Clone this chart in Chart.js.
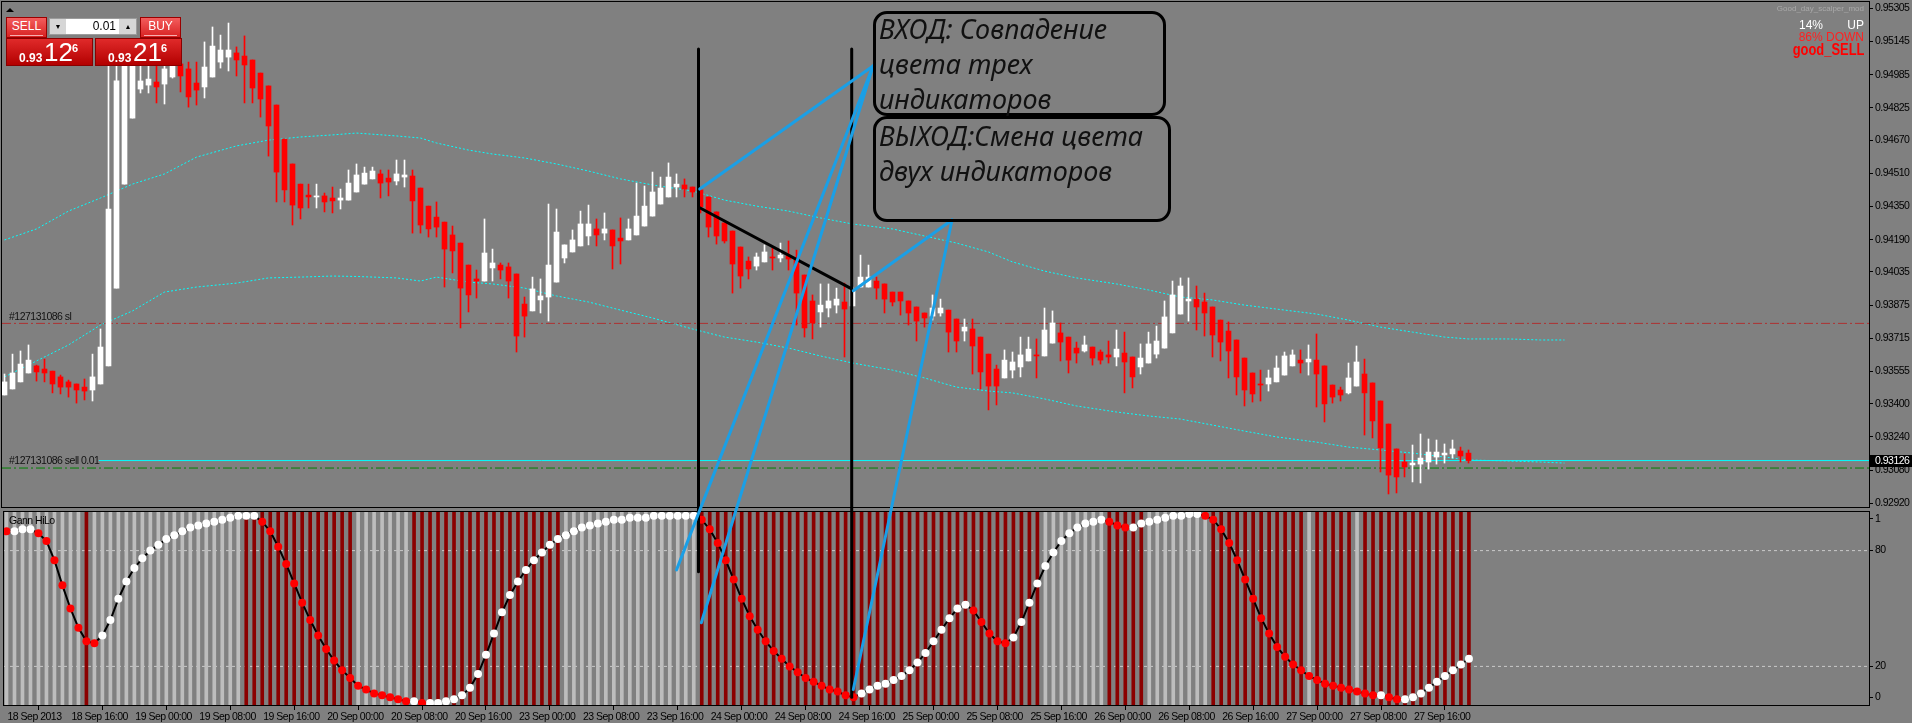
<!DOCTYPE html>
<html>
<head>
<meta charset="utf-8">
<title>H1 chart with Gann HiLo</title>
<script src="https://cdn.jsdelivr.net/npm/chart.js@4.4.1/dist/chart.umd.min.js"></script>
<style>
  html, body { margin: 0; padding: 0; background: #808080; }
  body { position: relative; width: 1912px; height: 723px; overflow: hidden;
         font-family: "Liberation Sans", Arial, sans-serif; }
  canvas { position: absolute; left: 0; }
  #mainChart { top: 0; }
  #gannChart { top: 508px; }
  #marks { top: 0; pointer-events: none; }

  /* one-click trading panel */
  .tri { position: absolute; left: 6px; top: 8px; width: 0; height: 0;
         border-left: 4px solid transparent; border-right: 4px solid transparent; border-bottom: 4px solid #000; }
  .btn { position: absolute; top: 17px; width: 41px; height: 21px; box-sizing: border-box;
         background: linear-gradient(#f35d5d, #d82222); border: 1px solid #9a0000;
         color: #fff; font-size: 12px; text-align: center; line-height: 17px; }
  .btn span { display: block; margin: 0 3px; border-bottom: 1px solid #f6b0b0; }
  .lot { position: absolute; left: 49px; top: 18px; width: 88px; height: 17px; box-sizing: border-box;
         background: #d6d6d6; border: 1px solid #9c9c9c; }
  .lot .a { position: absolute; top: 0; width: 16px; height: 15px; font-size: 7px; line-height: 15px; text-align: center; color: #000; }
  .lot .v { position: absolute; left: 16px; top: 0; width: 53px; height: 15px; background: #fff;
            font-size: 12px; line-height: 15px; text-align: right; box-sizing: border-box; padding-right: 3px; color: #000; }
  .quote { position: absolute; top: 38px; width: 87px; height: 28px; box-sizing: border-box;
           background: linear-gradient(#e02a2a, #b30000); border: 1px solid #8a0000; color: #fff; }
  .quote .s { position: absolute; left: 12px; top: 12px; font-size: 12px; font-weight: bold; }
  .quote .b { position: absolute; left: 37px; top: -1px; font-size: 26px; line-height: 28px; }
  .quote .p { position: absolute; left: 65px; top: 3px; font-size: 11px; font-weight: bold; }

  /* expert info, top right */
  .info { position: absolute; right: 48px; white-space: nowrap; }

  /* notes drawn on the screenshot */
  .note { position: absolute; box-sizing: border-box; border: 3px solid #000; border-radius: 14px;
          font: italic 27px "Noto Sans", "Open Sans", sans-serif; line-height: 35px; color: #111;
          padding-left: 3px; white-space: nowrap; }
  .note div { position: relative; top: -3px; }
  .note.exit div { top: -1px; }
</style>
</head>
<body>
<canvas id="mainChart" width="1912" height="510"></canvas>
<canvas id="gannChart" width="1912" height="215"></canvas>
<canvas id="marks" width="1912" height="723"></canvas>

<div class="tri"></div>
<div class="btn" style="left:6px"><span>SELL</span></div>
<div class="lot"><div class="a" style="left:0">&#9660;</div><div class="v">0.01</div><div class="a" style="left:70px">&#9650;</div></div>
<div class="btn" style="left:140px"><span>BUY</span></div>
<div class="quote" style="left:6px"><span class="s">0.93</span><span class="b">12</span><span class="p">6</span></div>
<div class="quote" style="left:95px"><span class="s">0.93</span><span class="b">21</span><span class="p">6</span></div>

<div class="info" style="top:4px;font-size:8px;color:#a9a9a9">Good_day_scalper_mod</div>
<div class="info" style="top:18px;font-size:12px;color:#fff;left:1799px;right:auto">14%</div>
<div class="info" style="top:18px;font-size:12px;color:#fff">UP</div>
<div class="info" style="top:30px;font-size:12px;color:#ff2020">86% DOWN</div>
<div class="info" style="top:40px;font-size:17px;font-weight:bold;color:#ff0000;transform:scaleX(0.76);transform-origin:right">good_SELL</div>

<div class="note" style="left:873px;top:11px;width:293px;height:105px"><div>ВХОД: Совпадение<br>цвета трех<br>индикаторов</div></div>
<div class="note exit" style="left:873px;top:116px;width:298px;height:106px"><div>ВЫХОД:Смена цвета<br>двух индикаторов</div></div>

<script>
// ---- hourly bars, 18 Sep 2013 08:00 .. 27 Sep 2013 23:00 ----
const open = [0.93442,0.93471,0.93505,0.93548,0.93582,0.93567,0.93557,0.93529,0.93505,0.93495,
  0.93480,0.93466,0.93495,0.93582,0.93957,0.94458,0.94776,0.94916,0.94935,0.94950,
  0.94940,0.94974,0.95037,0.95013,0.94945,0.94926,0.94974,0.95046,0.95070,0.95090,
  0.95075,0.95056,0.94993,0.94931,0.94839,0.94675,0.94555,0.94458,0.94405,0.94396,
  0.94401,0.94391,0.94381,0.94381,0.94420,0.94458,0.94483,0.94507,0.94487,0.94473,
  0.94492,0.94497,0.94439,0.94352,0.94299,0.94275,0.94213,0.94174,0.94068,0.94001,
  0.93991,0.94054,0.94068,0.94059,0.94025,0.93880,0.93847,0.93900,0.93914,0.93986,
  0.94102,0.94131,0.94160,0.94208,0.94242,0.94222,0.94237,0.94198,0.94189,0.94213,
  0.94256,0.94304,0.94362,0.94396,0.94444,0.94454,0.94444,0.94430,0.94396,0.94324,
  0.94271,0.94232,0.94155,0.94087,0.94063,0.94083,0.94107,0.94102,0.94112,0.94102,
  0.94020,0.93895,0.93842,0.93861,0.93875,0.93890,0.93871,0.93962,0.93962,0.93991,
  0.93977,0.93938,0.93938,0.93895,0.93866,0.93837,0.93822,0.93837,0.93851,0.93808,
  0.93750,0.93760,0.93721,0.93639,0.93567,0.93524,0.93562,0.93577,0.93606,0.93635,
  0.93630,0.93692,0.93741,0.93721,0.93668,0.93654,0.93673,0.93649,0.93635,0.93625,
  0.93644,0.93625,0.93577,0.93596,0.93639,0.93668,0.93741,0.93832,0.93895,0.93904,
  0.93890,0.93866,0.93803,0.93750,0.93707,0.93620,0.93548,0.93495,0.93495,0.93505,
  0.93538,0.93582,0.93610,0.93601,0.93610,0.93582,0.93490,0.93466,0.93452,0.93485,
  0.93543,0.93500,0.93413,0.93302,0.93182,0.93119,0.93105,0.93109,0.93119,0.93143,
  0.93153,0.93158,0.93172,0.93162];
const high = [0.93543,0.93639,0.93654,0.93683,0.93586,0.93615,0.93557,0.93538,0.93514,0.93495,
  0.93519,0.93639,0.93760,0.95056,0.95066,0.95104,0.95094,0.95046,0.95056,0.95037,
  0.95056,0.95075,0.95066,0.95046,0.95046,0.95143,0.95215,0.95176,0.95234,0.95119,
  0.95172,0.95056,0.94993,0.94931,0.94839,0.94675,0.94555,0.94458,0.94458,0.94458,
  0.94415,0.94444,0.94434,0.94526,0.94555,0.94540,0.94540,0.94526,0.94526,0.94574,
  0.94574,0.94526,0.94439,0.94352,0.94372,0.94275,0.94256,0.94174,0.94068,0.94044,
  0.94290,0.94145,0.94078,0.94078,0.94025,0.93914,0.94010,0.94001,0.94362,0.94338,
  0.94165,0.94237,0.94328,0.94357,0.94290,0.94319,0.94237,0.94295,0.94290,0.94463,
  0.94449,0.94516,0.94492,0.94560,0.94507,0.94483,0.94444,0.94439,0.94396,0.94324,
  0.94271,0.94232,0.94155,0.94107,0.94126,0.94165,0.94155,0.94174,0.94184,0.94140,
  0.94020,0.93924,0.93977,0.93977,0.93957,0.93981,0.93962,0.94116,0.94068,0.94010,
  0.93977,0.93938,0.93938,0.93895,0.93866,0.93837,0.93924,0.93904,0.93851,0.93808,
  0.93808,0.93808,0.93721,0.93639,0.93586,0.93659,0.93649,0.93721,0.93721,0.93712,
  0.93861,0.93847,0.93789,0.93721,0.93697,0.93726,0.93673,0.93659,0.93702,0.93755,
  0.93745,0.93625,0.93688,0.93745,0.93774,0.93895,0.93991,0.94006,0.94006,0.93967,
  0.93933,0.93866,0.93803,0.93794,0.93707,0.93620,0.93548,0.93562,0.93562,0.93630,
  0.93649,0.93659,0.93659,0.93683,0.93736,0.93582,0.93490,0.93480,0.93596,0.93678,
  0.93615,0.93500,0.93413,0.93302,0.93182,0.93158,0.93201,0.93254,0.93230,0.93225,
  0.93206,0.93225,0.93191,0.93177];
const low = [0.93442,0.93471,0.93505,0.93548,0.93509,0.93505,0.93452,0.93447,0.93432,0.93403,
  0.93418,0.93413,0.93495,0.93582,0.93957,0.94458,0.94776,0.94897,0.94897,0.94849,
  0.94844,0.94969,0.94902,0.94829,0.94839,0.94873,0.94974,0.95017,0.95003,0.94979,
  0.94849,0.94849,0.94781,0.94593,0.94372,0.94372,0.94261,0.94290,0.94343,0.94343,
  0.94324,0.94319,0.94338,0.94381,0.94420,0.94458,0.94483,0.94391,0.94401,0.94454,
  0.94444,0.94222,0.94222,0.94203,0.94203,0.93962,0.94030,0.93765,0.93842,0.93909,
  0.93991,0.93991,0.94001,0.93909,0.93649,0.93721,0.93847,0.93837,0.93798,0.93986,
  0.94078,0.94131,0.94160,0.94165,0.94160,0.94189,0.94049,0.94073,0.94189,0.94213,
  0.94256,0.94304,0.94362,0.94396,0.94396,0.94396,0.94396,0.94319,0.94203,0.94169,
  0.94174,0.93933,0.93957,0.94001,0.94044,0.94083,0.94044,0.94083,0.94044,0.93779,
  0.93721,0.93712,0.93769,0.93818,0.93837,0.93625,0.93871,0.93962,0.93962,0.93904,
  0.93837,0.93871,0.93827,0.93779,0.93702,0.93769,0.93803,0.93822,0.93649,0.93649,
  0.93702,0.93543,0.93471,0.93370,0.93394,0.93524,0.93524,0.93529,0.93606,0.93524,
  0.93630,0.93692,0.93606,0.93548,0.93596,0.93649,0.93586,0.93591,0.93596,0.93582,
  0.93452,0.93476,0.93543,0.93596,0.93620,0.93668,0.93741,0.93832,0.93798,0.93755,
  0.93726,0.93625,0.93606,0.93524,0.93442,0.93389,0.93408,0.93413,0.93461,0.93505,
  0.93538,0.93582,0.93548,0.93538,0.93384,0.93312,0.93403,0.93413,0.93447,0.93485,
  0.93249,0.93235,0.93071,0.92965,0.92970,0.93047,0.93023,0.93018,0.93085,0.93109,
  0.93114,0.93138,0.93119,0.93114];
const close = [0.93505,0.93548,0.93591,0.93610,0.93553,0.93548,0.93495,0.93480,0.93480,0.93466,
  0.93461,0.93529,0.93673,0.94338,0.94955,0.95066,0.95056,0.94955,0.94964,0.94926,
  0.95013,0.95037,0.94979,0.94878,0.94911,0.95022,0.95123,0.95104,0.95104,0.95056,
  0.95032,0.94921,0.94868,0.94738,0.94516,0.94430,0.94357,0.94343,0.94396,0.94401,
  0.94372,0.94377,0.94391,0.94463,0.94502,0.94511,0.94521,0.94463,0.94468,0.94507,
  0.94502,0.94377,0.94261,0.94242,0.94251,0.94145,0.94136,0.93957,0.93924,0.93991,
  0.94126,0.94078,0.94044,0.93991,0.93726,0.93822,0.93953,0.93919,0.94068,0.94227,
  0.94165,0.94189,0.94266,0.94266,0.94213,0.94242,0.94160,0.94184,0.94242,0.94304,
  0.94352,0.94420,0.94439,0.94492,0.94458,0.94434,0.94420,0.94348,0.94251,0.94208,
  0.94184,0.94073,0.94015,0.94049,0.94107,0.94131,0.94102,0.94116,0.94097,0.93933,
  0.93765,0.93789,0.93875,0.93895,0.93904,0.93856,0.93953,0.94010,0.94010,0.93957,
  0.93904,0.93890,0.93895,0.93837,0.93798,0.93813,0.93861,0.93861,0.93745,0.93702,
  0.93769,0.93678,0.93553,0.93485,0.93485,0.93610,0.93601,0.93635,0.93663,0.93630,
  0.93755,0.93789,0.93697,0.93610,0.93644,0.93683,0.93620,0.93610,0.93625,0.93663,
  0.93601,0.93529,0.93620,0.93688,0.93702,0.93818,0.93924,0.93967,0.93904,0.93866,
  0.93837,0.93731,0.93697,0.93654,0.93529,0.93466,0.93447,0.93490,0.93524,0.93572,
  0.93630,0.93635,0.93596,0.93615,0.93543,0.93399,0.93432,0.93442,0.93524,0.93601,
  0.93452,0.93317,0.93187,0.93056,0.93047,0.93095,0.93114,0.93138,0.93167,0.93167,
  0.93162,0.93182,0.93148,0.93126];

// envelope (cyan dotted, shifted forward), read at these bar indices
const bandBars  = [0,4,8,12,16,20,24,29,33,37,41,44,49,52,54,58,61,65,69,73,77,81,86,90,94,98,102,106,111,115,119,123,126,130,134,139,143,147,151,155,159,164,168,172,176,180,183,188,192,195];
const upperBand = [0.94189,0.94242,0.94328,0.94391,0.94458,0.94507,0.94588,0.94642,0.94670,0.94685,0.94695,0.94704,0.94690,0.94680,0.94656,0.94622,0.94603,0.94584,0.94555,0.94521,0.94483,0.94454,0.94425,0.94381,0.94352,0.94328,0.94295,0.94266,0.94242,0.94208,0.94174,0.94131,0.94083,0.94039,0.94006,0.93977,0.93948,0.93914,0.93900,0.93875,0.93856,0.93832,0.93803,0.93769,0.93745,0.93721,0.93712,0.93712,0.93707,0.93707];
const lowerBand = [0.93529,0.93606,0.93683,0.93779,0.93847,0.93938,0.93962,0.93981,0.94006,0.94010,0.94015,0.94013,0.94006,0.93991,0.94010,0.93986,0.93977,0.93957,0.93919,0.93890,0.93851,0.93813,0.93760,0.93721,0.93697,0.93668,0.93630,0.93596,0.93562,0.93524,0.93480,0.93461,0.93452,0.93423,0.93389,0.93360,0.93341,0.93326,0.93297,0.93268,0.93240,0.93215,0.93191,0.93177,0.93162,0.93143,0.93129,0.93124,0.93119,0.93114];

// Gann HiLo sub-window: oscillator value and histogram state (1 = sell, 0 = buy)
const gannValue = [90,90,91,91,89,85,75,62,50,40,
  33,32,36,44,55,64,71,76,80,83,
  86,88,90,92,93,94,95,96,97,98,
  98,98,95,90,82,73,63,53,44,36,
  29,23,18,14,10,8,6,5,4,3,
  2,2,1,1,1,2,3,5,9,16,
  26,37,48,57,64,70,75,79,83,86,
  88,90,92,93,94,95,96,96,97,97,
  97,98,98,98,98,98,98,96,91,84,
  75,65,55,46,39,33,28,24,20,17,
  14,12,10,8,7,5,4,6,8,10,
  11,13,15,18,22,27,33,39,45,50,
  52,49,43,37,33,32,35,43,53,63,
  72,79,85,89,92,94,95,96,95,93,
  92,92,94,95,96,97,98,98,99,99,
  98,96,91,84,75,65,55,45,37,30,
  25,21,18,15,13,11,10,9,8,7,
  6,5,5,4,3,3,4,6,9,12,
  15,18,21,24];
const gannState = [0,0,0,0,0,0,0,0,0,0, 1,0,0,0,0,0,0,0,0,0, 0,0,0,0,0,0,0,0,0,0,
  1,1,1,1,1,1,1,1,1,1, 1,1,1,1,0,0,0,0,0,0, 0,1,1,1,1,1,1,1,1,1,
  1,1,1,1,1,1,1,1,1,1, 0,0,0,0,0,0,0,0,0,0, 0,0,0,0,0,0,0,1,1,1,
  1,1,1,1,1,1,1,1,1,1, 1,1,1,1,1,1,1,1,1,1, 1,1,1,1,1,1,1,1,1,1,
  1,1,1,1,1,1,1,1,1,1, 0,0,0,0,0,0,0,0,1,1, 1,1,1,0,0,0,0,0,0,0,
  0,1,1,1,1,1,1,1,1,1, 1,1,1,0,1,1,1,1,1,0, 1,1,1,1,1,1,1,1,1,1,
  1,1,1,1];

// axes
const priceTicks = [0.95305,0.95145,0.94985,0.94825,0.94670,0.94510,0.94350,0.94190,0.94035,0.93875,0.93715,0.93555,0.93400,0.93240,0.93080,0.92920];
const gannTicks = [96.5, 80, 20, 4];
const gannTickLabels = ['1', '80', '20', '0'];
const gannLevels = [80, 20];
const timeLabels = ['18 Sep 2013','18 Sep 16:00','19 Sep 00:00','19 Sep 08:00','19 Sep 16:00','20 Sep 00:00','20 Sep 08:00','20 Sep 16:00',
  '23 Sep 00:00','23 Sep 08:00','23 Sep 16:00','24 Sep 00:00','24 Sep 08:00','24 Sep 16:00','25 Sep 00:00','25 Sep 08:00',
  '25 Sep 16:00','26 Sep 00:00','26 Sep 08:00','26 Sep 16:00','27 Sep 00:00','27 Sep 08:00','27 Sep 16:00'];
const barsPerLabel = 8;

// order lines
const slPrice = 0.93787, orderPrice = 0.93090, bidPrice = 0.93126;
const slText = '#127131086 sl', orderText = '#127131086 sell 0.01';

// hand-drawn markup (bar index + price / Gann value)
const entryBar = 86.75, exitBar = 105.9, markTopPrice = 0.95109;
const entryEndGann = 69, exitEndGann = 4;
const trendLine = [[86.9, 0.94344], [105.9, 0.93953]];
const entryTip = [873, 66], exitTip = [952, 220];
const entryRays = [{ bar: 86.9, price: 0.94434 }, { bar: 87.1, gann: 42.6 }, { bar: 84, gann: 70 }];
const exitRays = [{ bar: 106.1, price: 0.93944 }, { bar: 106.1, gann: 8 }];

// ------------------------------------------------------------------
const FONT = '"Liberation Sans", Arial, sans-serif';
const X_MIN = -0.3125, X_MAX = 233.0625;
const P_MIN = 0.929023, P_MAX = 0.953354;
Chart.defaults.font.family = FONT;
Chart.defaults.font.size = 10.5;
Chart.defaults.color = '#000';

const candleColor = open.map((o, i) => close[i] >= o ? '#ffffff' : '#ff0000');
const wickData = open.map((o, i) => ({ x: i, y: [low[i], high[i]] }));
const bodyData = open.map((o, i) => ({ x: i, y: [o, close[i]] }));
const hline = (y, from) => [{ x: from, y: y }, { x: X_MAX, y: y }];

// MT4 terminal text is tighter than Liberation Sans
const tightText = {
  id: 'tightText',
  beforeDraw(chart) { chart.ctx.letterSpacing = '-0.5px'; }
};

// no extra room for half labels: the plot must fill the window edge to edge
function noLabelPad(s) { s.paddingTop = 0; s.paddingBottom = 0; s.paddingLeft = 0; s.paddingRight = 0; }

const framePlugin = {
  id: 'frame',
  afterDraw(chart) {
    const { ctx, chartArea: a } = chart;
    ctx.save();
    ctx.strokeStyle = '#000';
    ctx.lineWidth = 1;
    ctx.strokeRect(a.left - 0.5, a.top - 0.5, a.right - a.left + 1, a.bottom - a.top + 1);
    ctx.restore();
  }
};

const orderLabels = {
  id: 'orderLabels',
  afterDatasetsDraw(chart) {
    const { ctx, chartArea: a, scales: { y } } = chart;
    ctx.save();
    ctx.font = '10.5px ' + FONT;
    ctx.fillStyle = '#111';
    ctx.textBaseline = 'bottom';
    ctx.fillText(slText, a.left + 7, y.getPixelForValue(slPrice) - 1);
    ctx.textBaseline = 'middle';
    ctx.fillText(orderText, a.left + 7, y.getPixelForValue(bidPrice) + 1);
    // current bid on the price scale
    const by = Math.round(y.getPixelForValue(bidPrice));
    ctx.fillStyle = '#000';
    ctx.fillRect(a.right + 1, by - 6, 1912 - a.right, 12);
    ctx.fillStyle = '#fff';
    ctx.fillText(bidPrice.toFixed(5), a.right + 6, by + 0.5);
    ctx.restore();
  }
};

const mainChart = new Chart(document.getElementById('mainChart'), {
  type: 'bar',
  data: {
    datasets: [
      { type: 'line', data: bandBars.map((b, i) => ({ x: b, y: upperBand[i] })), borderColor: '#00ffff', borderWidth: 1, borderDash: [2, 2], pointRadius: 0, order: 9 },
      { type: 'line', data: bandBars.map((b, i) => ({ x: b, y: lowerBand[i] })), borderColor: '#00ffff', borderWidth: 1, borderDash: [2, 2], pointRadius: 0, order: 9 },
      { type: 'line', data: hline(slPrice, X_MIN), borderColor: '#ad3030', borderWidth: 1, borderDash: [9, 3, 2, 3], pointRadius: 0, order: 8 },
      { type: 'line', data: hline(orderPrice, X_MIN), borderColor: '#008000', borderWidth: 1, borderDash: [9, 3, 2, 3], pointRadius: 0, order: 8 },
      { type: 'line', data: hline(bidPrice, 11.8), borderColor: '#00ffff', borderWidth: 1, pointRadius: 0, order: 7 },
      { data: wickData, backgroundColor: candleColor, barThickness: 1, grouped: false, order: 2 },
      { data: bodyData, backgroundColor: candleColor, barThickness: 5, grouped: false, minBarLength: 1, order: 1 }
    ]
  },
  options: {
    responsive: false, animation: false, events: [],
    layout: { padding: { left: 2, top: 2, right: 0, bottom: 3 } },
    plugins: { legend: { display: false }, tooltip: { enabled: false } },
    scales: {
      x: { type: 'linear', min: X_MIN, max: X_MAX, offset: false, display: false },
      y: {
        position: 'right', min: P_MIN, max: P_MAX,
        afterFit(s) { s.width = 43; noLabelPad(s); },
        afterBuildTicks(s) { s.ticks = priceTicks.map(v => ({ value: v })); },
        ticks: { padding: 2, callback: v => v.toFixed(5) },
        grid: { drawOnChartArea: false, tickLength: 4, color: '#000' },
        border: { color: '#000' }
      }
    }
  },
  plugins: [tightText, framePlugin, orderLabels]
});

const gannLabel = {
  id: 'gannLabel',
  afterDraw(chart) {
    const { ctx, chartArea: a } = chart;
    ctx.save();
    ctx.font = '10.5px ' + FONT;
    ctx.fillStyle = '#000';
    ctx.textBaseline = 'middle';
    ctx.fillText('Gann HiLo', a.left + 5, a.top + 9);
    ctx.restore();
  }
};

const dotColor = gannValue.map((v, i) => (i > 0 && v >= gannValue[i - 1]) ? '#ffffff' : '#ff0000');

const gannChart = new Chart(document.getElementById('gannChart'), {
  type: 'bar',
  data: {
    datasets: [
      ...gannLevels.map(l => ({ type: 'line', data: hline(l, X_MIN), borderColor: '#c8c8c8', borderWidth: 1, borderDash: [3, 3], pointRadius: 0, order: 20 })),
      { data: gannState.map((s, i) => ({ x: i, y: [0, 100] })), backgroundColor: gannState.map(s => s ? '#8b0000' : '#bdbdbd'), barThickness: 3, grouped: false, order: 10 },
      { type: 'line', data: gannValue.map((v, i) => ({ x: i, y: v })), borderColor: '#000', borderWidth: 2,
        pointRadius: 4, pointBorderWidth: 0, pointBackgroundColor: dotColor, order: 1 }
    ]
  },
  options: {
    responsive: false, animation: false, events: [],
    layout: { padding: { left: 2, top: 2, right: 0, bottom: 0 } },
    plugins: { legend: { display: false }, tooltip: { enabled: false } },
    scales: {
      x: {
        type: 'linear', min: X_MIN, max: X_MAX, offset: false,
        afterFit(s) { s.height = 18; noLabelPad(s); },
        afterBuildTicks(s) { s.ticks = timeLabels.map((t, i) => ({ value: i * barsPerLabel })); },
        ticks: { autoSkip: false, maxRotation: 0, minRotation: 0, align: 'start', labelOffset: 1, padding: 1,
                 callback: (v, i) => timeLabels[i] },
        grid: { drawOnChartArea: false, tickLength: 5, color: '#000' },
        border: { color: '#000' }
      },
      y: {
        position: 'right', min: 0, max: 100,
        afterFit(s) { s.width = 43; noLabelPad(s); },
        afterBuildTicks(s) { s.ticks = gannTicks.map(v => ({ value: v })); },
        ticks: { padding: 2, callback: (v, i) => gannTickLabels[i] },
        grid: { drawOnChartArea: false, tickLength: 4, color: '#000' },
        border: { color: '#000' }
      }
    }
  },
  plugins: [tightText, framePlugin, gannLabel]
});

// ---- markup layer ----
(function drawMarks() {
  const g = document.getElementById('marks').getContext('2d');
  const top2 = 508;
  const X = b => mainChart.scales.x.getPixelForValue(b);
  const P = p => mainChart.scales.y.getPixelForValue(p);
  const G = v => top2 + gannChart.scales.y.getPixelForValue(v);
  const pt = r => [X(r.bar), r.price !== undefined ? P(r.price) : G(r.gann)];
  function seg(a, b) { g.beginPath(); g.moveTo(a[0], a[1]); g.lineTo(b[0], b[1]); g.stroke(); }

  g.lineCap = 'round';
  g.strokeStyle = '#000';
  g.lineWidth = 3;
  seg([X(entryBar), P(markTopPrice)], [X(entryBar), G(entryEndGann)]);
  seg([X(exitBar), P(markTopPrice)], [X(exitBar), G(exitEndGann)]);
  seg([X(trendLine[0][0]), P(trendLine[0][1])], [X(trendLine[1][0]), P(trendLine[1][1])]);

  g.strokeStyle = '#1a9fe6';
  g.lineWidth = 3;
  entryRays.forEach(r => seg(pt(r), entryTip));
  exitRays.forEach(r => seg(pt(r), exitTip));
})();
</script>
</body>
</html>
